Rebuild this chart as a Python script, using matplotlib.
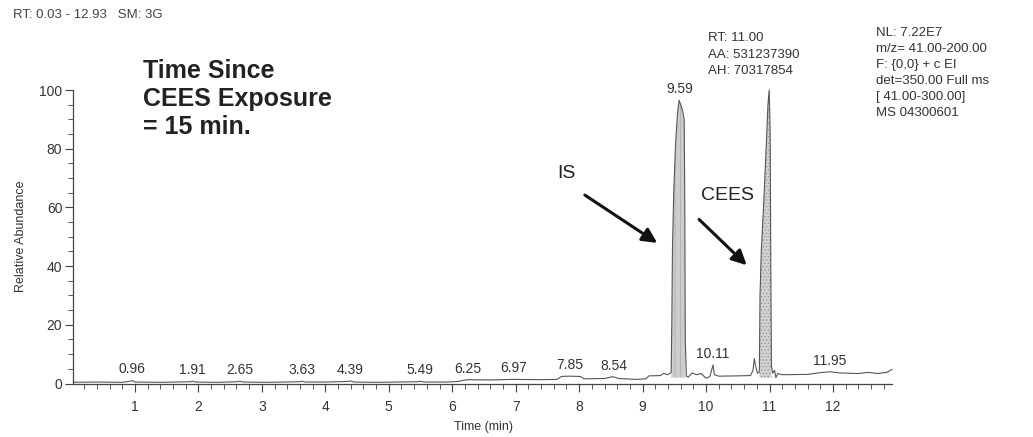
import numpy as np
import matplotlib
matplotlib.use("Agg")
import matplotlib.pyplot as plt
from matplotlib.ticker import MultipleLocator

plt.rcParams['font.family'] = ['Liberation Sans', 'DejaVu Sans']
plt.rcParams['hatch.linewidth'] = 0.5

# ---- data ----
time_min = [0.03, 0.40, 0.80, 0.93, 0.96, 1.00, 1.40, 1.88, 1.91, 1.95, 2.30, 2.62, 2.65, 2.70,
            3.10, 3.60, 3.63, 3.68, 4.00, 4.36, 4.39, 4.45, 4.80, 5.46, 5.49, 5.55, 5.90, 6.10,
            6.20, 6.25, 6.60, 6.97, 7.40, 7.65, 7.72, 7.85, 8.02, 8.08, 8.40, 8.50, 8.54, 8.62,
            8.90, 9.05, 9.10, 9.28, 9.33, 9.40, 9.45, 9.46, 9.47, 9.49, 9.52, 9.55, 9.575, 9.60,
            9.63, 9.655, 9.665, 9.672, 9.69, 9.72, 9.78, 9.85, 9.92, 10.00, 10.06, 10.09, 10.11,
            10.13, 10.20, 10.50, 10.70, 10.74, 10.76, 10.78, 10.81, 10.84, 10.85, 10.87, 10.91,
            10.95, 10.975, 10.995, 11.01, 11.02, 11.03, 11.05, 11.08, 11.10, 11.13, 11.20,
            11.60, 11.80, 11.95, 12.10, 12.40, 12.55, 12.70, 12.85, 12.93]
abundance = [0.4, 0.5, 0.4, 0.8, 1.0, 0.5, 0.4, 0.6, 0.8, 0.5, 0.4, 0.6, 0.8, 0.5,
             0.4, 0.6, 0.8, 0.5, 0.5, 0.7, 0.9, 0.5, 0.4, 0.6, 0.8, 0.5, 0.5, 0.7,
             1.2, 1.3, 1.2, 1.4, 1.3, 1.4, 2.4, 2.5, 2.4, 1.6, 1.7, 2.2, 2.3, 1.7,
             1.4, 1.6, 2.6, 2.7, 3.4, 3.0, 3.8, 20.0, 45.0, 65.0, 82.0, 92.0, 96.5, 95.0,
             93.0, 90.0, 60.0, 15.0, 2.5, 2.2, 3.6, 3.0, 3.4, 1.8, 2.4, 4.8, 6.3,
             3.0, 2.5, 2.6, 2.7, 4.5, 8.5, 6.0, 3.5, 4.0, 30.0, 45.0, 62.0,
             82.0, 95.0, 100.0, 85.0, 40.0, 6.0, 3.5, 4.5, 2.0, 3.4, 3.0,
             3.1, 3.7, 4.0, 3.6, 3.4, 3.8, 3.4, 3.8, 4.8]
peak_labels = [0.96, 1.91, 2.65, 3.63, 4.39, 5.49, 6.25, 6.97, 7.85, 8.54, 9.59, 10.11, 11.95]
is_window = (9.45, 9.672)
cees_window = (10.84, 11.03)
fill_base = 2.0
x_ticks = list(range(1, 13))
y_ticks = [0, 20, 40, 60, 80, 100]

t = np.array(time_min)
a = np.array(abundance)

W, H = 1033, 437
fig = plt.figure(figsize=(W / 100, H / 100), dpi=100)
x0, x1 = 0.03, 12.93
left_px, right_px = 73.4, 892.0
bot_px, top_px = 383.5, 90.0
ax = fig.add_axes([left_px / W, 1 - bot_px / H, (right_px - left_px) / W, (bot_px - top_px) / H])

line_c = '#555555'
ax.plot(t, a, color=line_c, lw=0.8, clip_on=False, zorder=3)
m = (t >= is_window[0]) & (t <= is_window[1])
ax.fill_between(t[m], a[m], fill_base, facecolor='#cdcdcd', edgecolor='#a8a8a8', hatch='|||',
                lw=0, zorder=2)
m = (t >= cees_window[0]) & (t <= cees_window[1])
ax.fill_between(t[m], a[m], fill_base, facecolor='#d2d2d2', edgecolor='#8f8f8f', hatch='.....',
                lw=0, zorder=2)

ax.set_xlim(x0, x1)
ax.set_ylim(0, 100)
for s in ['top', 'right']:
    ax.spines[s].set_visible(False)
for s in ['left', 'bottom']:
    ax.spines[s].set_color('#444444')
    ax.spines[s].set_linewidth(0.9)

ax.set_xticks(x_ticks)
ax.set_yticks(y_ticks)
ax.xaxis.set_minor_locator(MultipleLocator(0.2))
ax.yaxis.set_minor_locator(MultipleLocator(5))
ax.tick_params(axis='both', which='major', direction='out', length=6, width=0.8,
               colors='#444444', labelcolor='#333333', labelsize=10)
ax.tick_params(axis='both', which='minor', direction='out', length=3.5, width=0.7, colors='#555555')
ax.tick_params(axis='x', which='major', pad=6)
ax.tick_params(axis='y', which='major', pad=2)

ax.set_xlabel('Time (min)', fontsize=9, color='#333333')
ax.xaxis.set_label_coords((483 - left_px) / (right_px - left_px), -(421 - bot_px) / (bot_px - top_px))
ax.set_ylabel('Relative Abundance', fontsize=9, color='#333333')
ax.yaxis.set_label_coords(-(left_px - 27) / (right_px - left_px), 0.5)

# peak labels
for pt in peak_labels:
    mm = (t >= pt - 0.06) & (t <= pt + 0.06)
    yv = a[mm].max()
    ax.annotate(f'{pt:.2f}', xy=(pt, yv), xytext=(0, 3), textcoords='offset points',
                ha='center', va='bottom', fontsize=10, color='#333333')

# arrows and compound labels
arrow_kw = dict(arrowstyle='-|>', lw=2.2, color='#111111', mutation_scale=22, shrinkA=0, shrinkB=0)
ax.annotate('', xy=(9.23, 47.9), xytext=(8.09, 64.2), arrowprops=arrow_kw)
ax.annotate('', xy=(10.64, 40.3), xytext=(9.89, 55.9), arrowprops=arrow_kw)
ax.text(7.80, 71.7, 'IS', fontsize=14, ha='center', va='center', color='#222222')
ax.text(10.33, 64.2, 'CEES', fontsize=14, ha='center', va='center', color='#222222')

# figure texts
fig.text(13 / W, 1 - 15 / H, 'RT: 0.03 - 12.93   SM: 3G', fontsize=9.5, color='#444444', va='center', ha='left')
fig.text(143 / W, 1 - 59 / H, 'Time Since\nCEES Exposure\n= 15 min.', fontsize=18, fontweight='bold',
         color='#222222', va='top', ha='left', linespacing=1.22)
fig.text(708 / W, 1 - 32 / H, 'RT: 11.00\nAA: 531237390\nAH: 70317854', fontsize=9.5, color='#333333',
         va='top', ha='left', linespacing=1.52)
fig.text(876 / W, 1 - 27 / H, 'NL: 7.22E7\nm/z= 41.00-200.00\nF: {0,0} + c EI\ndet=350.00 Full ms\n[ 41.00-300.00]\nMS 04300601',
         fontsize=9.5, color='#333333', va='top', ha='left', linespacing=1.45)

fig.savefig('out.png', dpi=100)
